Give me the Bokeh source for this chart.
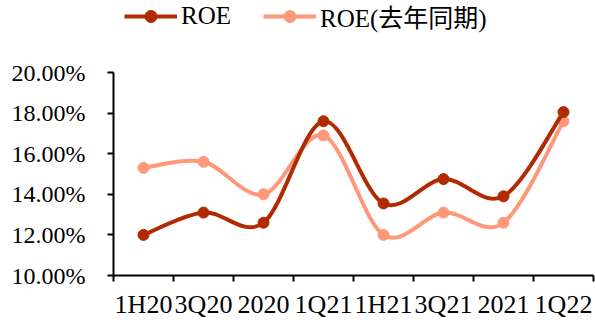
from bokeh.plotting import figure
from bokeh.layouts import column
from bokeh.models import (ColumnDataSource, FixedTicker, PrintfTickFormatter,
                          Legend, LegendItem, Range1d)
from bokeh.embed import file_html
from bokeh.resources import INLINE

# Quarterly ROE (%) and the same period one year earlier
periods = ["1H20", "3Q20", "2020", "1Q21", "1H21", "3Q21", "2021", "1Q22"]
roe = [12.0, 13.1, 12.6, 17.6, 13.55, 14.75, 13.9, 18.05]
roe_prev = [15.3, 15.6, 14.0, 16.9, 12.0, 13.1, 12.6, 17.6]
y_ticks = [10, 12, 14, 16, 18, 20]

DARK = "#B02A02"
LIGHT = "#FF9878"
FONT = "Liberation Serif, Noto Sans CJK SC"

xs = [i + 0.5 for i in range(len(periods))]
NAN = float("nan")

p = figure(width=595, height=274, output_backend="svg", toolbar_location=None,
           x_range=Range1d(0, len(periods)), y_range=Range1d(10, 20),
           min_border_left=113, min_border_right=2, min_border_top=22,
           min_border_bottom=49)
p.outline_line_color = None
p.xgrid.visible = False
p.ygrid.visible = False
p.background_fill_color = "white"
p.border_fill_color = "white"


def smooth_segments(x, y):
    """Cubic Bezier pieces through the points (Catmull-Rom style smoothing)."""
    n = len(x)
    seg = dict(x0=[], y0=[], x1=[], y1=[], cx0=[], cy0=[], cx1=[], cy1=[])
    for i in range(n - 1):
        a = max(i - 1, 0)
        d = min(i + 2, n - 1)
        seg["x0"].append(x[i]); seg["y0"].append(y[i])
        seg["x1"].append(x[i + 1]); seg["y1"].append(y[i + 1])
        seg["cx0"].append(x[i] + (x[i + 1] - x[a]) / 6)
        seg["cy0"].append(y[i] + (y[i + 1] - y[a]) / 6)
        seg["cx1"].append(x[i + 1] - (x[d] - x[i]) / 6)
        seg["cy1"].append(y[i + 1] - (y[d] - y[i]) / 6)
    return ColumnDataSource(seg)


# legend strip above the chart (its frame lines up with the chart's frame)
lg = figure(width=595, height=50, output_backend="svg", toolbar_location=None,
            x_range=Range1d(0, 1), y_range=Range1d(0, 1), min_border=0,
            x_axis_location=None, y_axis_location=None)
lg.grid.visible = False
lg.outline_line_color = None

items = []
for vals, color, name in [(roe_prev, LIGHT, "ROE(去年同期)"), (roe, DARK, "ROE")]:
    p.bezier(x0="x0", y0="y0", x1="x1", y1="y1", cx0="cx0", cy0="cy0",
             cx1="cx1", cy1="cy1", source=smooth_segments(xs, vals),
             line_color=color, line_width=4)
    p.scatter(xs, vals, size=11, fill_color=color, line_color=color)
    # legend swatches: undrawable points, only their styling is used
    lg_line = lg.line([NAN], [NAN], line_color=color, line_width=4)
    lg_dot = lg.scatter([NAN], [NAN], size=10, fill_color=color, line_color=color)
    items.append(LegendItem(label=name, renderers=[lg_line, lg_dot]))

items = items[::-1]
legend = Legend(items=items, orientation="horizontal", location=(11, 16),
                padding=0, margin=0, spacing=32, glyph_width=53, glyph_height=30,
                label_height=30, label_standoff=4, label_text_font=FONT,
                label_text_font_size="25px", label_text_color="#000000",
                border_line_color=None, background_fill_alpha=0)
lg.add_layout(legend, "center")

# y axis
ya = p.yaxis[0]
ya.ticker = FixedTicker(ticks=y_ticks)
ya.formatter = PrintfTickFormatter(format="%.2f%%")
ya.major_tick_in = 0
ya.major_tick_out = 6
ya.minor_tick_out = 0
ya.minor_tick_in = 0
ya.axis_line_width = 2
ya.major_tick_line_width = 2
ya.axis_line_color = "black"
ya.major_tick_line_color = "black"
ya.major_label_text_font = FONT
ya.major_label_text_font_size = "24px"
ya.major_label_text_color = "black"
ya.major_label_standoff = 22

# x axis: labels centred on categories, tick marks between them
xa = p.xaxis[0]
xa.ticker = FixedTicker(ticks=xs, minor_ticks=list(range(len(periods) + 1)))
xa.major_label_overrides = {x: lab for x, lab in zip(xs, periods)}
xa.major_tick_in = 0
xa.major_tick_out = 0
xa.minor_tick_in = 0
xa.minor_tick_out = 6
xa.minor_tick_line_width = 2
xa.minor_tick_line_color = "black"
xa.axis_line_width = 2
xa.axis_line_color = "black"
xa.major_label_text_font = FONT
xa.major_label_text_font_size = "26px"
xa.major_label_text_color = "black"
xa.major_label_standoff = 8

layout = column(lg, p, spacing=0)
open("out.html", "w").write(file_html(layout, INLINE))
